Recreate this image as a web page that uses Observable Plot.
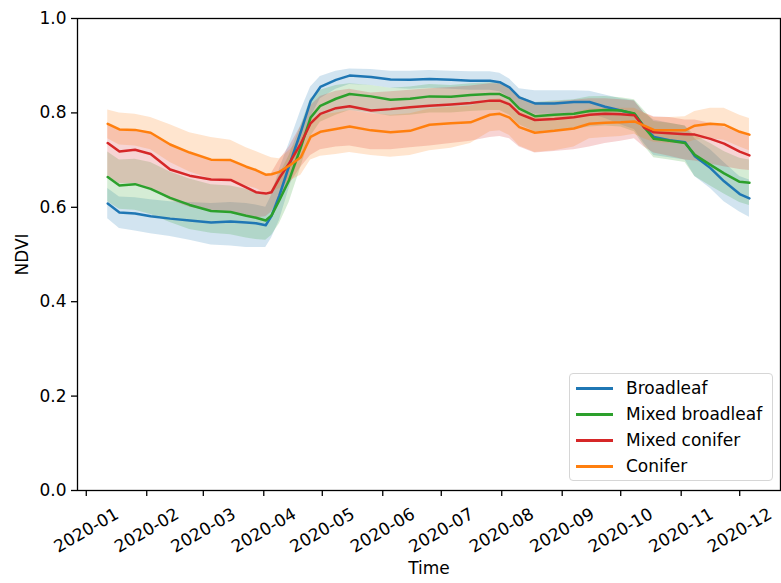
<!DOCTYPE html>
<html><head><meta charset="utf-8">
<script src="https://cdn.jsdelivr.net/npm/d3@7"></script>
<script src="https://cdn.jsdelivr.net/npm/@observablehq/plot@0.6"></script>
<style>
body{margin:0;background:#fff;font-family:"DejaVu Sans",sans-serif}
#wrap{position:relative;width:781px;height:583px}
#legend{position:absolute;left:569px;top:373px;width:204px;height:108px;border:1px solid #d6d6d6;border-radius:4px;background:rgba(255,255,255,0.8);box-sizing:border-box;font-size:17px;color:#000}
.item{position:absolute;left:0;height:26px;width:200px}
.item .sw{position:absolute;left:6px;top:12px;width:37px;height:3px}
.item .lb{position:absolute;left:56px;top:1px;line-height:24px;white-space:nowrap}
</style></head>
<body><div id="wrap"></div>
<script>
const series = ["Broadleaf","Mixed broadleaf","Mixed conifer","Conifer"];
const colors = ["#1f77b4","#2ca02c","#d62728","#ff7f0e"];
const dates = ["2020-01-12","2020-01-18","2020-01-26","2020-02-03","2020-02-13","2020-02-23","2020-03-05","2020-03-15","2020-03-23","2020-03-28","2020-04-02","2020-04-05","2020-04-09","2020-04-14","2020-04-20","2020-04-25","2020-04-30","2020-05-08","2020-05-15","2020-05-26","2020-06-05","2020-06-15","2020-06-25","2020-07-06","2020-07-16","2020-07-26","2020-07-31","2020-08-05","2020-08-10","2020-08-18","2020-08-28","2020-09-07","2020-09-15","2020-09-23","2020-10-01","2020-10-08","2020-10-13","2020-10-18","2020-10-26","2020-11-03","2020-11-08","2020-11-16","2020-11-23","2020-12-01","2020-12-06"];

const broadleafMean = [0.608,0.589,0.587,0.581,0.576,0.572,0.568,0.570,0.568,0.566,0.562,0.582,0.625,0.688,0.760,0.825,0.855,0.870,0.879,0.876,0.871,0.870,0.872,0.870,0.868,0.868,0.865,0.854,0.833,0.820,0.820,0.823,0.823,0.813,0.805,0.798,0.770,0.749,0.742,0.738,0.708,0.683,0.655,0.628,0.619];
const broadleafLo = [0.576,0.555,0.550,0.544,0.538,0.530,0.520,0.518,0.515,0.515,0.515,0.535,0.572,0.640,0.715,0.790,0.830,0.850,0.860,0.858,0.852,0.850,0.852,0.850,0.848,0.848,0.845,0.832,0.810,0.797,0.797,0.800,0.798,0.788,0.775,0.765,0.735,0.710,0.705,0.700,0.665,0.640,0.612,0.590,0.579];
const broadleafHi = [0.640,0.622,0.620,0.616,0.612,0.610,0.608,0.610,0.608,0.605,0.600,0.625,0.680,0.735,0.805,0.855,0.877,0.888,0.893,0.892,0.888,0.888,0.890,0.888,0.887,0.887,0.884,0.872,0.851,0.847,0.847,0.847,0.846,0.838,0.830,0.826,0.800,0.785,0.778,0.772,0.745,0.722,0.695,0.665,0.658];

const mixedBroadMean = [0.664,0.646,0.649,0.639,0.620,0.605,0.592,0.590,0.582,0.578,0.572,0.583,0.615,0.658,0.727,0.790,0.815,0.830,0.840,0.835,0.828,0.830,0.835,0.834,0.838,0.840,0.840,0.830,0.809,0.793,0.796,0.798,0.804,0.806,0.805,0.799,0.770,0.745,0.741,0.736,0.711,0.690,0.672,0.654,0.652];
const mixedBroadLo = [0.612,0.596,0.594,0.585,0.568,0.553,0.545,0.542,0.535,0.532,0.530,0.540,0.565,0.610,0.685,0.750,0.780,0.795,0.805,0.800,0.793,0.795,0.800,0.800,0.803,0.805,0.805,0.795,0.775,0.760,0.762,0.765,0.770,0.772,0.770,0.760,0.730,0.705,0.700,0.695,0.665,0.645,0.628,0.610,0.604];
const mixedBroadHi = [0.717,0.700,0.702,0.695,0.675,0.660,0.648,0.645,0.638,0.632,0.625,0.635,0.668,0.710,0.772,0.830,0.848,0.858,0.862,0.858,0.852,0.855,0.860,0.858,0.862,0.864,0.864,0.855,0.835,0.822,0.825,0.828,0.834,0.835,0.832,0.828,0.805,0.782,0.778,0.772,0.752,0.735,0.718,0.704,0.700];

const mixedConMean = [0.736,0.718,0.722,0.713,0.680,0.667,0.659,0.658,0.642,0.632,0.629,0.632,0.662,0.693,0.735,0.778,0.798,0.810,0.814,0.805,0.808,0.812,0.815,0.818,0.821,0.826,0.826,0.818,0.798,0.785,0.787,0.791,0.796,0.798,0.797,0.795,0.769,0.759,0.757,0.755,0.754,0.745,0.735,0.718,0.710];
const mixedConLo = [0.665,0.650,0.650,0.640,0.615,0.600,0.592,0.590,0.582,0.578,0.580,0.590,0.620,0.648,0.685,0.710,0.722,0.728,0.730,0.722,0.722,0.726,0.730,0.735,0.740,0.748,0.750,0.745,0.728,0.715,0.718,0.722,0.728,0.735,0.740,0.745,0.728,0.715,0.708,0.700,0.698,0.692,0.686,0.680,0.678];
const mixedConHi = [0.777,0.765,0.764,0.758,0.735,0.716,0.701,0.700,0.686,0.679,0.669,0.672,0.700,0.728,0.772,0.815,0.835,0.846,0.850,0.842,0.845,0.848,0.851,0.854,0.857,0.862,0.862,0.854,0.834,0.821,0.823,0.827,0.830,0.830,0.828,0.825,0.800,0.792,0.790,0.785,0.785,0.778,0.770,0.758,0.752];

const coniferMean = [0.777,0.765,0.764,0.758,0.733,0.716,0.701,0.700,0.686,0.679,0.669,0.670,0.675,0.688,0.706,0.749,0.760,0.766,0.771,0.763,0.759,0.762,0.775,0.778,0.780,0.796,0.798,0.790,0.770,0.758,0.762,0.767,0.777,0.779,0.780,0.782,0.773,0.764,0.763,0.763,0.773,0.777,0.775,0.760,0.754];
const coniferLo = [0.745,0.732,0.730,0.722,0.695,0.675,0.660,0.658,0.645,0.640,0.630,0.632,0.640,0.655,0.668,0.700,0.708,0.712,0.716,0.710,0.706,0.710,0.720,0.725,0.735,0.760,0.762,0.752,0.730,0.716,0.720,0.728,0.745,0.748,0.750,0.755,0.745,0.738,0.735,0.735,0.742,0.745,0.742,0.728,0.720];
const coniferHi = [0.806,0.800,0.797,0.790,0.775,0.758,0.748,0.742,0.726,0.718,0.710,0.705,0.703,0.720,0.745,0.785,0.795,0.800,0.805,0.798,0.795,0.798,0.808,0.812,0.814,0.828,0.830,0.822,0.803,0.792,0.795,0.800,0.808,0.810,0.810,0.810,0.800,0.790,0.790,0.792,0.803,0.810,0.810,0.795,0.788];

const xTickLabels = ["2020-01","2020-02","2020-03","2020-04","2020-05","2020-06","2020-07","2020-08","2020-09","2020-10","2020-11","2020-12"];
const yTicks = [0,0.2,0.4,0.6,0.8,1.0];

const means = [broadleafMean, mixedBroadMean, mixedConMean, coniferMean];
const los = [broadleafLo, mixedBroadLo, mixedConLo, coniferLo];
const his = [broadleafHi, mixedBroadHi, mixedConHi, coniferHi];

const parse = d3.utcParse("%Y-%m-%d");
const tables = series.map((s, si) => dates.map((d, i) => ({series: s, date: parse(d), mean: means[si][i], lo: los[si][i], hi: his[si][i]})));
const xTicks = xTickLabels.map(t => parse(t + "-01"));

const chart = Plot.plot({
  width: 781, height: 583,
  marginLeft: 77, marginRight: 1, marginTop: 18, marginBottom: 93,
  style: {fontFamily: "DejaVu Sans", fontSize: "17px", color: "#000", background: "#fff", overflow: "visible"},
  x: {type: "utc", domain: [new Date(Date.UTC(2019, 11, 27, 12)), new Date(Date.UTC(2020, 11, 21, 22))]},
  y: {domain: [0, 1]},
  marks: [
    ...tables.map((t, si) => Plot.areaY(t, {x: "date", y1: "lo", y2: "hi", fill: colors[si], fillOpacity: 0.2})),
    ...tables.map((t, si) => Plot.lineY(t, {x: "date", y: "mean", stroke: colors[si], strokeWidth: 2.5})),
    Plot.frame({stroke: "#000", strokeWidth: 1.3}),
    Plot.axisY({ticks: yTicks, tickFormat: d3.format(".1f"), tickSize: 6, tickPadding: 5, label: null, strokeWidth: 1.3, fontSize: 17}),
    Plot.axisX({ticks: xTicks, tickFormat: () => "", tickSize: 6, label: null, strokeWidth: 1.3}),
    Plot.text(xTicks, {x: d => d, frameAnchor: "bottom", dy: 40, rotate: -30, text: (d, i) => xTickLabels[i], textAnchor: "middle", lineAnchor: "middle", fontSize: 17, fill: "#000"}),
    Plot.text(["NDVI"], {frameAnchor: "left", dx: -55, rotate: -90, text: d => d, textAnchor: "middle", lineAnchor: "middle", fontSize: 17, fill: "#000"}),
    Plot.text(["Time"], {frameAnchor: "bottom", dy: 78, text: d => d, textAnchor: "middle", lineAnchor: "middle", fontSize: 17, fill: "#000"})
  ]
});
const wrap = document.getElementById("wrap");
wrap.appendChild(chart);

const legend = document.createElement("div");
legend.id = "legend";
series.forEach((s, i) => {
  const it = document.createElement("div");
  it.className = "item";
  it.style.top = (1 + i * 25.9) + "px";
  const sw = document.createElement("div");
  sw.className = "sw"; sw.style.background = colors[i];
  const lb = document.createElement("div");
  lb.className = "lb"; lb.textContent = s;
  it.appendChild(sw); it.appendChild(lb);
  legend.appendChild(it);
});
wrap.appendChild(legend);
</script>
</body></html>
